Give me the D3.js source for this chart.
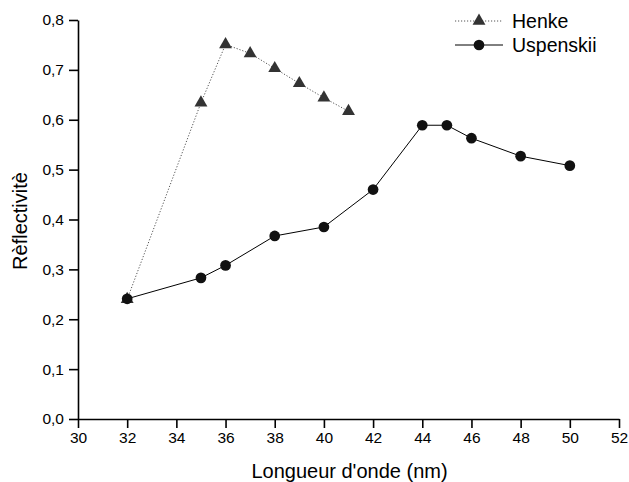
<!DOCTYPE html>
<html><head><meta charset="utf-8">
<script src="https://cdn.jsdelivr.net/npm/d3@7"></script>
<style>body{margin:0;background:#fff;} text{font-family:"Liberation Sans",Arial,sans-serif;}</style>
</head><body>
<svg id="chart" width="629" height="482"></svg>
<script>
const henkeX = [32, 35, 36, 37, 38, 39, 40, 41];
const henkeY = [0.240, 0.634, 0.751, 0.733, 0.703, 0.673, 0.644, 0.617];
const uspX = [32, 35, 36, 38, 40, 42, 44, 45, 46, 48, 50];
const uspY = [0.241, 0.283, 0.308, 0.367, 0.385, 0.460, 0.589, 0.589, 0.563, 0.527, 0.508];
const xTicks = [30, 32, 34, 36, 38, 40, 42, 44, 46, 48, 50, 52];
const yTicks = [0.0, 0.1, 0.2, 0.3, 0.4, 0.5, 0.6, 0.7, 0.8];
const seriesNames = ["Henke", "Uspenskii"];

const svg = d3.select("#chart");
const x = d3.scaleLinear().domain([30, 52]).range([78, 619]);
const y = d3.scaleLinear().domain([0, 0.8]).range([419, 20]);
const fmt = d => d3.format(".1f")(d).replace(".", ",");

// minor ticks
const xMinor = d3.range(31, 52, 2);
const yMinor = d3.range(0.05, 0.8, 0.1);
const gx = svg.append("g").attr("transform", "translate(0,419)");
gx.call(d3.axisBottom(x).tickValues(xMinor).tickSize(5).tickFormat(""));
gx.call(d3.axisBottom(x).tickValues(xTicks).tickSize(9).tickSizeOuter(0).tickPadding(4).tickFormat(d3.format("d")));
const gy = svg.append("g").attr("transform", "translate(78,0)");
gy.call(d3.axisLeft(y).tickValues(yMinor).tickSize(5).tickFormat(""));
gy.call(d3.axisLeft(y).tickValues(yTicks).tickSize(9).tickSizeOuter(0).tickPadding(5).tickFormat(fmt));
svg.selectAll(".domain").attr("stroke", "#000").attr("stroke-width", 1.6);
svg.selectAll(".tick line").attr("stroke", "#000").attr("stroke-width", 1.6);
svg.selectAll(".tick text").attr("font-size", 15.5).attr("fill", "#000").attr("font-family", "Liberation Sans, Arial, sans-serif");

// axis titles
svg.append("text").attr("x", (x(30) + x(52)) / 2 + 1).attr("y", 478).attr("text-anchor", "middle")
  .attr("font-size", 20).text("Longueur d'onde (nm)");
svg.append("text").attr("transform", "translate(27,221) rotate(-90)").attr("text-anchor", "middle")
  .attr("font-size", 20).text("Rèflectivitè");

// lines
const line = d3.line().x(d => x(d[0])).y(d => y(d[1]));
const henke = henkeX.map((v, i) => [v, henkeY[i]]);
const usp = uspX.map((v, i) => [v, uspY[i]]);
svg.append("path").datum(henke).attr("d", line).attr("fill", "none").attr("stroke", "#555")
  .attr("stroke-width", 1).attr("stroke-dasharray", "1.2,1.8");
svg.append("path").datum(usp).attr("d", line).attr("fill", "none").attr("stroke", "#000").attr("stroke-width", 1);

const tri = d3.symbol().type(d3.symbolTriangle).size(72);
const circ = d3.symbol().type(d3.symbolCircle).size(90);
svg.selectAll(".tri").data(henke).join("path").attr("class", "tri")
  .attr("transform", d => `translate(${x(d[0])},${y(d[1])})`).attr("d", tri).attr("fill", "#333");
svg.selectAll(".circ").data(usp).join("path").attr("class", "circ")
  .attr("transform", d => `translate(${x(d[0])},${y(d[1])})`).attr("d", circ).attr("fill", "#111");

// legend
const lg = svg.append("g");
const rows = [{name: seriesNames[0], y: 21, dash: "1.2,1.8", color: "#555", sym: tri, fill: "#333"},
              {name: seriesNames[1], y: 45, dash: null, color: "#000", sym: circ, fill: "#111"}];
rows.forEach(r => {
  lg.append("line").attr("x1", 455).attr("x2", 503).attr("y1", r.y).attr("y2", r.y)
    .attr("stroke", r.color).attr("stroke-width", 1).attr("stroke-dasharray", r.dash);
  lg.append("path").attr("transform", `translate(479,${r.y})`).attr("d", r.sym).attr("fill", r.fill);
  lg.append("text").attr("x", 512).attr("y", r.y + 7).attr("font-size", 19.5).text(r.name);
});
</script>
</body></html>
